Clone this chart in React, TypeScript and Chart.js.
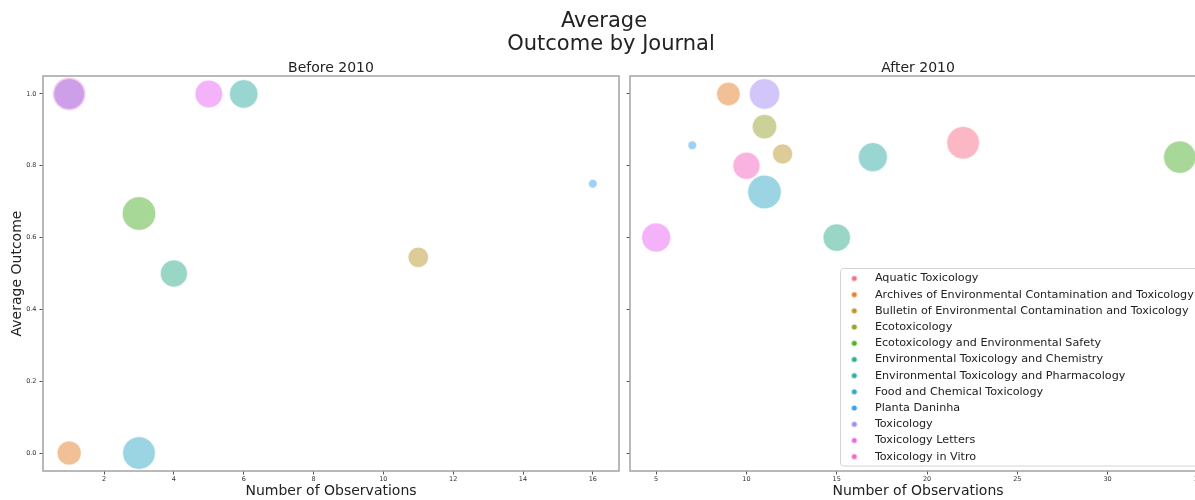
import React, { useEffect, useRef } from 'react';
import { Chart, registerables } from 'chart.js';

Chart.register(...registerables);

const JOURNALS = [
  'Aquatic Toxicology',
  'Archives of Environmental Contamination and Toxicology',
  'Bulletin of Environmental Contamination and Toxicology',
  'Ecotoxicology',
  'Ecotoxicology and Environmental Safety',
  'Environmental Toxicology and Chemistry',
  'Environmental Toxicology and Pharmacology',
  'Food and Chemical Toxicology',
  'Planta Daninha',
  'Toxicology',
  'Toxicology Letters',
  'Toxicology in Vitro',
];
const JOURNAL_COLORS = [
  '#f77189', '#e5822f', '#bb9832', '#97a431', '#50b131', '#34ae8c',
  '#36ada4', '#38a9c5', '#3ba3ec', '#a48cf4', '#e866f4', '#f668c2',
];

// Before 2010
const BEFORE_JOURNAL = [
  'Toxicology in Vitro', 'Toxicology',
  'Archives of Environmental Contamination and Toxicology',
  'Food and Chemical Toxicology', 'Ecotoxicology and Environmental Safety',
  'Environmental Toxicology and Chemistry', 'Toxicology Letters',
  'Environmental Toxicology and Pharmacology',
  'Bulletin of Environmental Contamination and Toxicology', 'Planta Daninha',
];
const BEFORE_OBSERVATIONS = [1, 1, 1, 3, 3, 4, 5, 6, 11, 16];
const BEFORE_OUTCOME = [1.0, 1.0, 0.0, 0.0, 0.667, 0.5, 1.0, 1.0, 0.545, 0.75];
const BEFORE_BUBBLE = [16.5, 15.5, 12, 16.3, 16.7, 13.5, 13.8, 14.2, 10.2, 4.3];

// After 2010
const AFTER_JOURNAL = [...JOURNALS];
const AFTER_OBSERVATIONS = [22, 9, 12, 11, 34, 15, 17, 11, 7, 11, 5, 10];
const AFTER_OUTCOME = [0.864, 1.0, 0.833, 0.909, 0.824, 0.6, 0.824, 0.727, 0.857, 1.0, 0.6, 0.8];
const AFTER_BUBBLE = [16.3, 11.7, 10, 12.2, 16.2, 13.7, 14.5, 16.7, 4.3, 15.2, 14.5, 13.5];

const BEFORE_X_TICKS = [2, 4, 6, 8, 10, 12, 14, 16];
const AFTER_X_TICKS = [5, 10, 15, 20, 25, 30, 35];
const Y_TICKS = [0, 0.2, 0.4, 0.6, 0.8, 1.0];

const FONT = "'DejaVu Sans'";

function hexA(hex: string, a: number) {
  const n = parseInt(hex.slice(1), 16);
  return `rgba(${(n >> 16) & 255},${(n >> 8) & 255},${n & 255},${a})`;
}

function buildDatasets(names: string[], obs: number[], outcome: number[], size: number[]) {
  return JOURNALS.map((j, ji) => ({
    label: j,
    data: names
      .map((n, i) => (n === j ? { x: obs[i], y: outcome[i], r: size[i] } : null))
      .filter((p) => p !== null),
    backgroundColor: hexA(JOURNAL_COLORS[ji], 0.5),
    borderColor: 'rgba(255,255,255,0.5)',
    borderWidth: 1,
  })).filter((d) => d.data.length > 0);
}

function makeDot(color: string) {
  const c = document.createElement('canvas');
  c.width = 30;
  c.height = 8;
  const g = c.getContext('2d')!;
  g.fillStyle = color;
  g.beginPath();
  g.arc(15, 4, 2.6, 0, Math.PI * 2);
  g.fill();
  return c;
}

function panelTitle(text: string) {
  return {
    id: 'panelTitle',
    afterDraw(chart: any) {
      const { ctx, chartArea } = chart;
      ctx.save();
      ctx.font = `14px ${FONT}`;
      ctx.fillStyle = '#222';
      ctx.textAlign = 'center';
      ctx.textBaseline = 'alphabetic';
      ctx.fillText(text, (chartArea.left + chartArea.right) / 2, 71.5);
      ctx.restore();
    },
  };
}

const frame = {
  id: 'frame',
  beforeDatasetsDraw(chart: any) {
    const { ctx, chartArea } = chart;
    ctx.save();
    ctx.strokeStyle = '#a3a3a3';
    ctx.lineWidth = 1.5;
    ctx.strokeRect(chartArea.left, chartArea.top, chartArea.right - chartArea.left, chartArea.bottom - chartArea.top);
    ctx.restore();
  },
};

const supTitle = {
  id: 'supTitle',
  afterDraw(chart: any) {
    const { ctx } = chart;
    ctx.save();
    ctx.font = `21px ${FONT}`;
    ctx.fillStyle = '#222';
    ctx.textAlign = 'center';
    ctx.textBaseline = 'alphabetic';
    ctx.fillText('Average', 604, 27);
    ctx.fillText('Outcome by Journal', 611, 50);
    ctx.restore();
  },
};

const legendPlace = {
  id: 'legendPlace',
  afterLayout(chart: any) {
    const lg = chart.legend;
    if (!lg) return;
    lg.left = 214.3;
    lg.top = 267.8;
    lg.right = 600;
    lg.bottom = 500;
  },
  beforeDraw(chart: any) {
    const { ctx } = chart;
    ctx.save();
    ctx.fillStyle = 'rgba(255,255,255,0.8)';
    ctx.strokeStyle = '#d4d4d4';
    ctx.lineWidth = 1;
    ctx.beginPath();
    (ctx as any).roundRect(220.5, 268.5, 380, 197.5, 3);
    ctx.fill();
    ctx.stroke();
    ctx.restore();
  },
};

function xScale(min: number, max: number, ticks: number[]) {
  return {
    type: 'linear' as const,
    min,
    max,
    afterBuildTicks: (s: any) => {
      s.ticks = ticks.map((v) => ({ value: v }));
    },
    afterFit: (s: any) => {
      s.height = 29;
    },
    ticks: {
      autoSkip: false,
      maxRotation: 0,
      font: { size: 6.5 },
      color: '#333',
      padding: 0.5,
      callback: (v: any) => String(v),
    },
    grid: { display: true, drawOnChartArea: false, drawTicks: true, tickLength: 3.5, color: '#555' },
    border: { display: false },
    title: {
      display: true,
      text: 'Number of Observations',
      font: { size: 14 },
      color: '#222',
      padding: { top: 0, bottom: 0 },
    },
  };
}

function yScale(width: number, showLabels: boolean) {
  return {
    type: 'linear' as const,
    min: -0.05,
    max: 1.05,
    afterBuildTicks: (s: any) => {
      s.ticks = Y_TICKS.map((v) => ({ value: v }));
    },
    afterFit: (s: any) => {
      s.width = width;
    },
    ticks: {
      display: showLabels,
      font: { size: 6.5 },
      color: '#333',
      padding: 3,
      callback: (v: any) => Number(v).toFixed(1),
    },
    grid: { display: true, drawOnChartArea: false, drawTicks: true, tickLength: 3.5, color: '#555' },
    border: { display: false },
    title: {
      display: showLabels,
      text: 'Average Outcome',
      font: { size: 14 },
      color: '#222',
      padding: { top: 8.6, bottom: 0 },
    },
  };
}

export default function App() {
  const leftRef = useRef<HTMLCanvasElement>(null);
  const rightRef = useRef<HTMLCanvasElement>(null);

  useEffect(() => {
    Chart.defaults.font.family = FONT;
    Chart.defaults.color = '#222';
    const dots = JOURNAL_COLORS.map(makeDot);

    const left = new Chart(leftRef.current!, {
      type: 'bubble',
      data: { datasets: buildDatasets(BEFORE_JOURNAL, BEFORE_OBSERVATIONS, BEFORE_OUTCOME, BEFORE_BUBBLE) as any },
      options: {
        responsive: false,
        animation: false,
        events: [],
        layout: { autoPadding: false, padding: { left: 0, top: 76, right: 576, bottom: 0 } },
        plugins: { legend: { display: false }, tooltip: { enabled: false }, title: { display: false } },
        scales: {
          x: xScale(0.25, 16.75, BEFORE_X_TICKS) as any,
          y: yScale(43, true) as any,
        },
      },
      plugins: [frame, panelTitle('Before 2010'), supTitle],
    });

    const right = new Chart(rightRef.current!, {
      type: 'bubble',
      data: { datasets: buildDatasets(AFTER_JOURNAL, AFTER_OBSERVATIONS, AFTER_OUTCOME, AFTER_BUBBLE) as any },
      options: {
        responsive: false,
        animation: false,
        events: [],
        layout: { autoPadding: false, padding: { left: 0, top: 76, right: 14, bottom: 0 } },
        plugins: {
          tooltip: { enabled: false },
          title: { display: false },
          legend: {
            display: true,
            position: 'chartArea' as any,
            align: 'start',
            labels: {
              usePointStyle: true,
              pointStyleWidth: 30,
              boxHeight: 6,
              padding: 5,
              font: { size: 11.2 },
              color: '#222',
              generateLabels: (chart: any) =>
                chart.data.datasets.map((ds: any, i: number) => {
                  const ji = JOURNALS.indexOf(ds.label);
                  return {
                    text: ds.label,
                    fillStyle: JOURNAL_COLORS[ji],
                    strokeStyle: JOURNAL_COLORS[ji],
                    lineWidth: 0,
                    pointStyle: dots[ji],
                    hidden: false,
                    datasetIndex: i,
                    fontColor: '#222',
                  };
                }),
            },
          },
        },
        scales: {
          x: xScale(3.55, 35.45, AFTER_X_TICKS) as any,
          y: yScale(10, false) as any,
        },
      },
      plugins: [frame, panelTitle('After 2010'), legendPlace],
    });

    return () => {
      left.destroy();
      right.destroy();
    };
  }, []);

  return (
    <div style={{ position: 'absolute', left: 0, top: 0, width: 1195, height: 500, overflow: 'hidden', background: '#fff' }}>
      <canvas ref={leftRef} width={1195} height={500} style={{ position: 'absolute', left: 0, top: 0 }} />
      <canvas ref={rightRef} width={600} height={500} style={{ position: 'absolute', left: 620, top: 0 }} />
    </div>
  );
}
